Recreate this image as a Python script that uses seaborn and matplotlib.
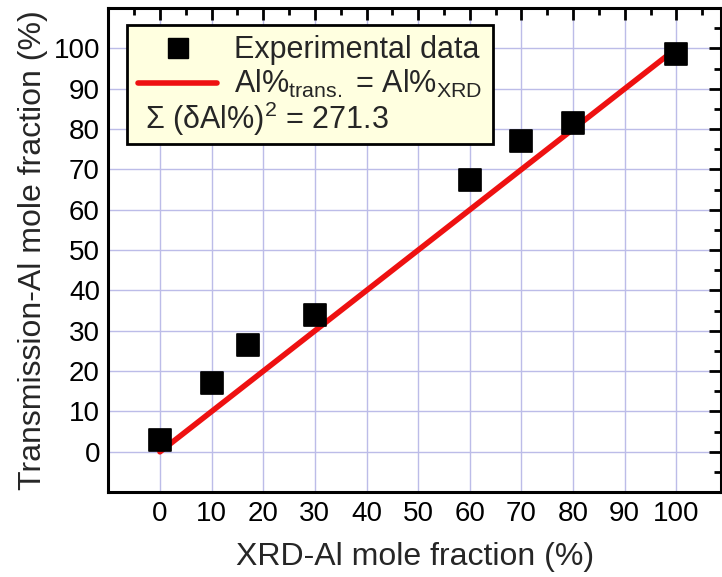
import matplotlib
matplotlib.use('Agg')
import matplotlib.pyplot as plt
import seaborn as sns
import pandas as pd
from matplotlib.lines import Line2D
from matplotlib.ticker import MultipleLocator

# measured values
xrd_al = [0, 10, 17, 30, 60, 70, 80, 100]
trans_al = [3, 17, 26.5, 34, 67.5, 77, 81.5, 98.5]
ideal_x = [0, 100]
ideal_y = [0, 100]
sum_sq = 271.3

df = pd.DataFrame({'xrd': xrd_al, 'trans': trans_al})
line_df = pd.DataFrame({'xrd': ideal_x, 'trans': ideal_y})

sns.set_style('white')
plt.rcParams['font.family'] = ['Liberation Sans', 'DejaVu Sans']
plt.rcParams['mathtext.fontset'] = 'custom'
plt.rcParams['mathtext.rm'] = 'Liberation Sans'
plt.rcParams['mathtext.default'] = 'regular'

fig = plt.figure(figsize=(7.22, 5.77), dpi=100)
ax = fig.add_axes([0.150, 0.147, 0.849, 0.839])

ax.grid(True, which='major', color='#bcbce8', linewidth=1)
ax.set_axisbelow(True)

sns.lineplot(data=line_df, x='xrd', y='trans', color='#ee1111', linewidth=4, ax=ax, zorder=3)
sns.scatterplot(data=df, x='xrd', y='trans', marker='s', s=240, color='black',
                edgecolor='black', ax=ax, zorder=4)

ax.set_xlim(-10, 108.7)
ax.set_ylim(-10, 110)
ax.xaxis.set_minor_locator(MultipleLocator(5))
ax.yaxis.set_minor_locator(MultipleLocator(5))
ax.set_xticks(range(0, 101, 10))
ax.set_yticks(range(0, 101, 10))

for sp in ax.spines.values():
    sp.set_linewidth(2.2)
    sp.set_color('black')
ax.tick_params(which='both', direction='in', top=True, right=True, width=2, colors='black')
ax.tick_params(which='major', length=8.5, labelsize=20, pad=6)
ax.tick_params(which='minor', length=5)

ax.set_xlabel('XRD-Al mole fraction (%)', fontsize=23, labelpad=11)
ax.set_ylabel('Transmission-Al mole fraction (%)', fontsize=23, labelpad=4)

handles = [
    Line2D([], [], marker='s', color='black', linestyle='none', markersize=15),
    Line2D([], [], color='#ee1111', linewidth=4),
    Line2D([], [], linestyle='none'),
]
labels = ['Experimental data', 'Al%$_{trans.}$ = Al%$_{XRD}$', ' ']
leg = ax.legend(handles, labels, loc='upper left', bbox_to_anchor=(0.031, 0.966),
                borderaxespad=0, fontsize=22, frameon=True, fancybox=False,
                facecolor='#ffffe0', edgecolor='black', framealpha=1,
                handlelength=2.6, handletextpad=0.55, labelspacing=0.1,
                borderpad=0.35)
leg.get_frame().set_linewidth(2)
leg.set_zorder(5)

# put the sum-of-squares line on the empty third legend row
fig.canvas.draw()
bb = leg.get_texts()[2].get_window_extent()
y_row = ax.transAxes.inverted().transform((0, (bb.y0 + bb.y1) / 2))[1]
ax.text(0.060, y_row, 'Σ (δAl%)$^2$ = ' + str(sum_sq), transform=ax.transAxes,
        fontsize=22, va='center', ha='left', zorder=6)

fig.savefig('out.png', dpi=100)
